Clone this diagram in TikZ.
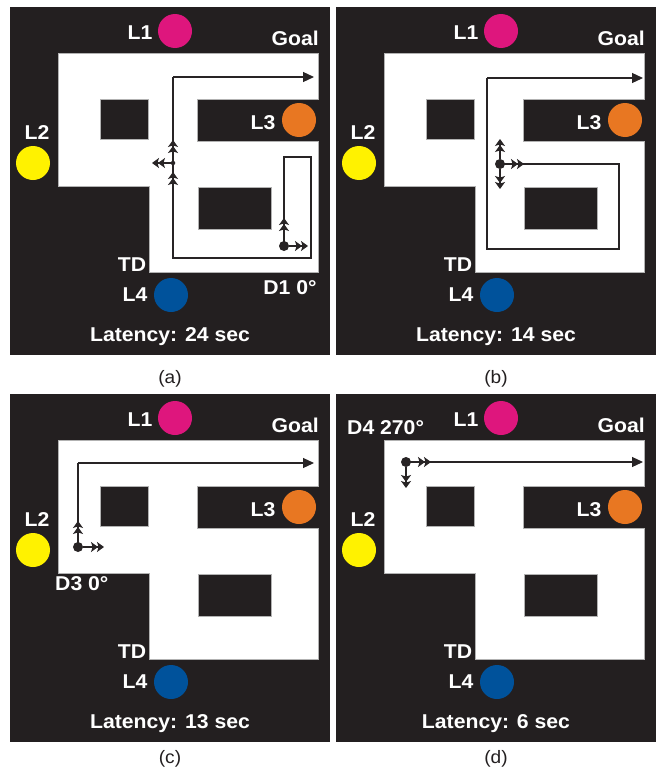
\documentclass[tikz,border=0pt]{standalone}
\usepackage{fontspec}
\setmainfont{Liberation Sans}[FakeStretch=1.06]
\usetikzlibrary{arrows.meta}
\definecolor{mazeblack}{RGB}{35,31,32}
\definecolor{cmag}{RGB}{222,22,125}
\definecolor{cyel}{RGB}{255,242,0}
\definecolor{corg}{RGB}{232,119,34}
\definecolor{cblu}{RGB}{0,82,155}
\definecolor{pathcol}{RGB}{40,36,37}
\tikzset{
  lbl/.style={text=white, font=\fontsize{20}{24}\selectfont\bfseries, inner sep=0pt},
  panelcap/.style={text=mazeblack, font=\fontsize{18}{21}\selectfont, inner sep=0pt},
  cue/.style={circle, minimum size=34pt, inner sep=0pt},
  route/.style={draw=pathcol, line width=1.2pt},
  goalarrow/.style={route, -{Triangle[length=11pt,width=10pt]}},
  dblarrow/.style={draw=pathcol, line width=1.2pt, -{Stealth[length=7pt,width=10pt,inset=1.6pt,sep=-1pt] Stealth[length=7pt,width=10pt,inset=1.6pt]}},
  bigdot/.style={circle, fill=pathcol, minimum size=10pt, inner sep=0pt},
  smalldot/.style={circle, fill=pathcol, minimum size=4.5pt, inner sep=0pt},
}
\begin{document}
\begin{tikzpicture}[x=1pt,y=-1pt]
\useasboundingbox (0,0) rectangle (656,771);
\fill[white] (0,0) rectangle (656,771);
\foreach \p/\dx/\dy/\lat in {a/0/0/24,b/326/0/14,c/0/387/13,d/326/387/6}{
  \begin{scope}[shift={(\dx,\dy)}]
    \fill[mazeblack] (10,7) rectangle (330,355);
    \fill[white, draw=gray!60, line width=0.5pt] (58,53) -- (318,53) -- (318,99) -- (197,99) -- (197,141)
      -- (318,141) -- (318,272) -- (149,272) -- (149,186) -- (58,186) -- cycle;
    \fill[mazeblack, draw=gray!60, line width=0.5pt] (100,99) rectangle (148,139);
    \fill[mazeblack, draw=gray!60, line width=0.5pt] (198,187) rectangle (271,229);
    \node[cue, fill=cmag] (L1c\p) at (175,31) {};
    \node[cue, fill=cyel] (L2c\p) at (33,163) {};
    \node[cue, fill=corg] (L3c\p) at (299,120) {};
    \node[cue, fill=cblu] (L4c\p) at (171,295) {};
    \node[lbl] (L1t\p) at (140,33) {L1};
    \node[lbl, anchor=east] (goal\p) at (319,38) {Goal};
    \node[lbl] (L2t\p) at (37,133) {L2};
    \node[lbl] (L3t\p) at (263,123) {L3};
    \node[lbl] (TD\p) at (132,265) {TD};
    \node[lbl] (L4t\p) at (135,295) {L4};
    \node[lbl] (lat\p) at (170,337) {Latency: \lat\ sec};
  \end{scope}
}
\node[panelcap] (capa) at (170,379) {(a)};
\node[panelcap] (capb) at (496,379) {(b)};
\node[panelcap] (capc) at (170,759) {(c)};
\node[panelcap] (capd) at (496,759) {(d)};
% panel (a)
\node[lbl] (D1) at (290,288) {D1 0°};
\node[bigdot] (sa) at (284,246) {};
\coordinate (a1) at (284,157);
\coordinate (a2) at (311,157);
\coordinate (a3) at (311,258);
\coordinate (a4) at (173,258);
\coordinate (a5) at (173,77);
\coordinate (a6) at (314,77);
\draw[route] (sa.center) -- (a1) -- (a2) -- (a3) -- (a4) -- (a5);
\draw[goalarrow] (a5) -- (a6);
\coordinate (au) at (284,218);
\coordinate (ar) at (308,246);
\draw[dblarrow] (sa) -- (au);
\draw[dblarrow] (sa) -- (ar);
\node[smalldot] (ja) at (173,163) {};
\coordinate (jb) at (173,198);
\coordinate (jc) at (173,172);
\coordinate (ju) at (173,140);
\coordinate (jl) at (152,163);
\draw[dblarrow] (jb) -- (jc);
\draw[dblarrow] (ja) -- (ju);
\draw[dblarrow] (ja) -- (jl);
% panel (b)
\node[lbl, anchor=east] (D2) at (486,162) {D2 90°};
\node[bigdot] (sb) at (500,164) {};
\coordinate (b1) at (619,164);
\coordinate (b2) at (619,249);
\coordinate (b3) at (487,249);
\coordinate (b4) at (487,78);
\coordinate (b5) at (643,78);
\draw[route] (sb.center) -- (b1) -- (b2) -- (b3) -- (b4);
\draw[goalarrow] (b4) -- (b5);
\coordinate (bu) at (500,139);
\coordinate (bd) at (500,189);
\coordinate (br) at (524,164);
\draw[dblarrow] (sb) -- (bu);
\draw[dblarrow] (sb) -- (bd);
\draw[dblarrow] (sb) -- (br);
% panel (c)
\node[lbl, anchor=west] (D3) at (55,584) {D3 0°};
\node[bigdot] (sc) at (78,547) {};
\coordinate (c1) at (78,463);
\coordinate (c2) at (314,463);
\draw[route] (sc.center) -- (c1);
\draw[goalarrow] (c1) -- (c2);
\coordinate (cu) at (78,521);
\coordinate (cr) at (104,547);
\draw[dblarrow] (sc) -- (cu);
\draw[dblarrow] (sc) -- (cr);
% panel (d)
\node[lbl, anchor=west] (D4) at (347,428) {D4 270°};
\node[bigdot] (sd) at (406,462) {};
\coordinate (d1) at (643,462);
\draw[goalarrow] (sd.center) -- (d1);
\coordinate (dr) at (431,462);
\coordinate (dd) at (406,488);
\draw[dblarrow] (sd) -- (dr);
\draw[dblarrow] (sd) -- (dd);
\end{tikzpicture}
\end{document}
